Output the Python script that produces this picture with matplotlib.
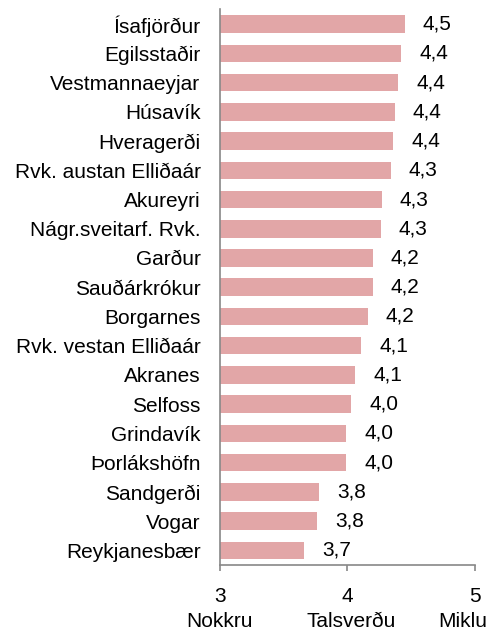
import matplotlib
matplotlib.use("Agg")
import matplotlib.pyplot as plt
import matplotlib.transforms as mtransforms

plt.rcParams['font.family'] = ['Liberation Sans', 'DejaVu Sans']

places = ["Ísafjörður", "Egilsstaðir", "Vestmannaeyjar", "Húsavík", "Hveragerði",
          "Rvk. austan Elliðaár", "Akureyri", "Nágr.sveitarf. Rvk.", "Garður",
          "Sauðárkrókur", "Borgarnes", "Rvk. vestan Elliðaár", "Akranes", "Selfoss",
          "Grindavík", "Þorlákshöfn", "Sandgerði", "Vogar", "Reykjanesbær"]
scores = [4.45, 4.42, 4.40, 4.37, 4.36, 4.34, 4.27, 4.26, 4.20, 4.20,
          4.16, 4.11, 4.06, 4.03, 3.99, 3.99, 3.78, 3.76, 3.66]
xticks = [3, 4, 5]
xtick_names = ["Nokkru", "Talsverðu", "Miklu"]

fig = plt.figure(figsize=(4.91, 6.31), dpi=100)
ax = fig.add_axes([0.448, 0.1046, 0.5193, 0.8804])

ypos = list(range(len(places)))
ax.barh(ypos, [s - 3 for s in scores], left=3, height=0.6, color='#E2A6A7')

for y, s in zip(ypos, scores):
    ax.annotate(f"{s:.1f}".replace(".", ","), xy=(s, y), xytext=(18, 0),
                textcoords='offset pixels', ha='left', va='center', fontsize=15)

ax.set_xlim(3, 5)
ax.set_ylim(len(places) - 0.5, -0.5)
ax.set_yticks(ypos)
ax.set_yticklabels(places, fontsize=15)
ax.set_xticks(xticks)
ax.set_xticklabels([str(t) for t in xticks], fontsize=15)

# descriptive names under the numbers; the last one kept inside the figure
trans = mtransforms.blended_transform_factory(ax.transData, fig.transFigure)
ax.text(xticks[0], 0.006, xtick_names[0], transform=trans, ha='center', va='baseline', fontsize=15)
ax.text(xticks[1] + 0.03, 0.006, xtick_names[1], transform=trans, ha='center', va='baseline', fontsize=15)
ax.text(0.992, 0.006, xtick_names[2], transform=fig.transFigure, ha='right', va='baseline', fontsize=15)

for side in ['top', 'right']:
    ax.spines[side].set_visible(False)
for side in ['left', 'bottom']:
    ax.spines[side].set_color('#888888')
    ax.spines[side].set_linewidth(1.2)
ax.tick_params(axis='y', length=0, pad=14)
ax.tick_params(axis='x', length=4.3, width=1.2, color='#888888', pad=11.5)

fig.savefig('out.png', dpi=100)
